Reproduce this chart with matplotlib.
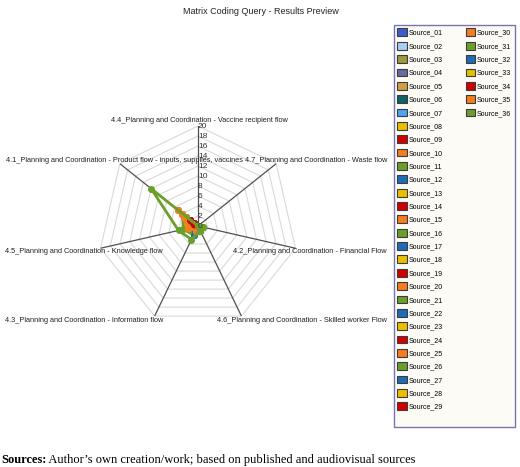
import numpy as np
import matplotlib
matplotlib.use('Agg')
import matplotlib.pyplot as plt
from matplotlib.patches import Patch

plt.rcParams['font.family'] = ['Liberation Sans', 'DejaVu Sans']

# axes of the radar, clockwise from the top
categories = ['4.4_Planning and Coordination - Vaccine recipient flow',
              '4.7_Planning and Coordination - Waste flow',
              '4.2_Planning and Coordination - Financial Flow',
              '4.6_Planning and Coordination - Skilled worker Flow',
              '4.3_Planning and Coordination - Information flow',
              '4.5_Planning and Coordination - Knowledge flow',
              '4.1_Planning and Coordination - Product flow - inputs, supplies, vaccines']

sources = ['Source_%02d' % i for i in range(1, 37)]

# coded references per source (Source_01 .. Source_36), one list per axis
vaccine_recipient_flow = [0] * 36
waste_flow = [0] * 36
financial_flow = [0, 0, 0, 0, 0, 0, 0, 0, 0, 0, 1, 0, 0, 0, 0, 0, 0, 0,
                  0, 0, 0, 0, 0, 0, 0, 1, 0, 0, 0, 0, 0, 0, 0, 0, 0, 1]
skilled_worker_flow = [0, 0, 0, 0, 0, 0, 0, 0, 0, 0, 1, 0, 0, 0, 0, 0, 0, 1,
                       0, 0, 0, 0, 0, 0, 0, 1, 0, 0, 0, 0, 0, 0, 0, 0, 0, 1]
information_flow = [1, 0, 1, 0, 1, 0, 1, 1, 0, 1, 2, 2, 1, 0, 1, 1, 1, 1,
                    0, 1, 1, 1, 1, 1, 1, 2, 2, 1, 0, 1, 1, 1, 1, 0, 1, 3]
knowledge_flow = [1, 1, 0, 1, 1, 0, 1, 2, 1, 2, 2, 2, 2, 1, 1, 2, 1, 2,
                  1, 2, 1, 2, 3, 1, 2, 3, 1, 2, 1, 2, 2, 1, 2, 1, 2, 4]
product_flow = [2, 1, 1, 2, 3, 1, 2, 4, 2, 5, 3, 2, 3, 1, 4, 3, 2, 4,
                2, 5, 3, 1, 3, 2, 4, 4, 2, 3, 1, 5, 3, 2, 4, 2, 4, 12]

first_colors = ['#3a5ccc', '#a8cff5', '#9b9a3c', '#6a6aa2', '#cf9e45', '#0c6464', '#4aa3f5']
cycle = ['#e8c000', '#d00000', '#f57c1f', '#6b9e2b', '#1c6db6']
colors = first_colors + [cycle[i % 5] for i in range(len(sources) - len(first_colors))]


def radar_plot(ax, values, theta):
    ax.set_theta_zero_location('N')
    ax.set_theta_direction(-1)
    ax.set_ylim(0, 20)
    ax.grid(False)
    ax.spines['polar'].set_visible(False)
    ax.set_xticks([])
    ax.set_yticks([])
    ax.patch.set_alpha(0)

    closed = np.append(theta, theta[0])
    for r in range(2, 21, 2):
        ax.plot(closed, [r] * len(closed), color='#d9d9d9', lw=0.8, zorder=1)
    for th in theta:
        ax.plot([th, th], [0, 20], color='#505050', lw=0.9, zorder=2)

    for i in range(len(sources)):
        v = [row[i] for row in values]
        v.append(v[0])
        ax.plot(closed, v, color=colors[i], lw=2, marker='o', ms=4,
                zorder=3, clip_on=False)

    for r in range(0, 21, 2):
        ax.annotate(str(r), xy=(0, r), xytext=(0, 0), textcoords='offset pixels',
                    ha='left', va='center', fontsize=6, color='#333333', zorder=4)


fig = plt.figure(figsize=(5.2, 4.67), dpi=100)
ax = fig.add_axes([98 / 520, 141 / 467, 200 / 520, 200 / 467], projection='polar')

theta = np.arange(len(categories)) * 2 * np.pi / len(categories)
values = [vaccine_recipient_flow, waste_flow, financial_flow, skilled_worker_flow,
          information_flow, knowledge_flow, product_flow]
radar_plot(ax, values, theta)

# spoke labels: left ones start at the left margin, right ones end at x=387 px
label_places = [(199, 121, 'center'), (387, 161, 'right'), (387, 252, 'right'),
                (387, 320, 'right'), (5, 320, 'left'), (5, 252, 'left'),
                (6, 161, 'left')]
for name, (x, y, ha) in zip(categories, label_places):
    fig.text(x / 520, 1 - y / 467, name, ha=ha, va='center', fontsize=5.3,
             color='#222222')

fig.text(261 / 520, 1 - 11 / 467, 'Matrix Coding Query - Results Preview',
         ha='center', va='center', fontsize=6.5, color='#222222')

# legend: 29 rows in the first column, the rest in the second
handles = [Patch(facecolor=c, edgecolor='#3c3c3c', lw=0.8, label=s)
           for s, c in zip(sources, colors)]
blank = Patch(facecolor='none', edgecolor='none', label='')
handles = handles[:29] + [blank] + handles[29:] + [blank] * 23
leg = fig.legend(handles=handles, labels=[h.get_label() for h in handles],
                 loc='upper left', bbox_to_anchor=(394 / 520, 1 - 25 / 467),
                 borderaxespad=0, ncol=2, fontsize=5, handlelength=1.35,
                 handleheight=1.35, handletextpad=0.2, labelspacing=0.74,
                 columnspacing=3.4, borderpad=0.5, fancybox=False, framealpha=1)
leg.get_frame().set_facecolor('#fdfbf5')
leg.get_frame().set_edgecolor('#7b72b0')
leg.get_frame().set_linewidth(1)

bold = fig.text(0.002, 1 - 460 / 467, 'Sources:', fontsize=9, fontweight='bold',
                family='Liberation Serif', va='center')
plt.annotate(" Author\u2019s own creation/work; based on published and audiovisual sources",
             xy=(1, 0), xycoords=bold, va='bottom', fontsize=9, family='Liberation Serif')

plt.savefig('out.png', dpi=100)
